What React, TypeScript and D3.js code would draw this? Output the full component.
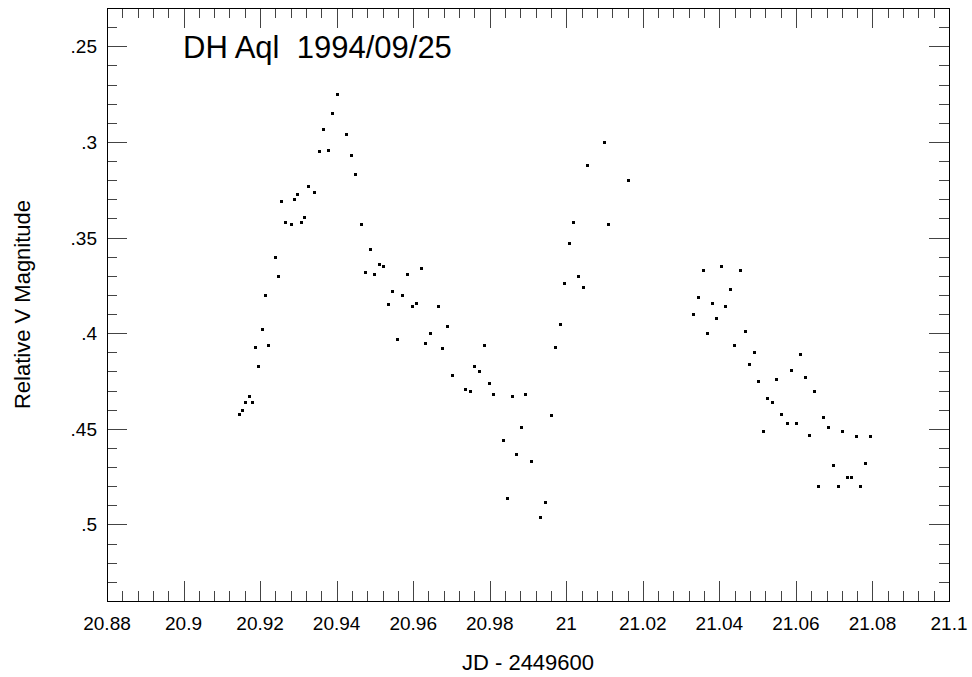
import React from "react";
import * as d3 from "d3";

const WIDTH = 972;
const HEIGHT = 677;
const PLOT = { left: 107, right: 949, top: 8, bottom: 601 };

const TITLE = "DH Aql  1994/09/25";
const X_LABEL = "JD - 2449600";
const Y_LABEL = "Relative V Magnitude";

const X_DOMAIN = [20.88, 21.1];
const Y_DOMAIN = [0.23, 0.54];
const X_MAJOR = [20.88, 20.9, 20.92, 20.94, 20.96, 20.98, 21, 21.02, 21.04, 21.06, 21.08, 21.1];
const Y_MAJOR = [0.25, 0.3, 0.35, 0.4, 0.45, 0.5];

// JD - 2449600 (first night segment)
const jd1 = [
  20.9146, 20.9154, 20.9161, 20.9172, 20.918, 20.9187, 20.9195, 20.9206, 20.9214, 20.9221,
  20.924, 20.9248, 20.9255, 20.9266, 20.9282, 20.9289, 20.9297, 20.9308, 20.9316, 20.9326,
  20.9342, 20.9355, 20.9365, 20.9378, 20.9389, 20.9402, 20.9425, 20.9438, 20.9449, 20.9464,
  20.9475, 20.9488, 20.9498, 20.9511, 20.9522, 20.9535, 20.9545, 20.9558, 20.9572, 20.9585,
  20.9598, 20.9608, 20.9621, 20.9632, 20.9645, 20.9666, 20.9676, 20.9689, 20.9702, 20.9736,
  20.9749, 20.976, 20.9773, 20.9786, 20.9799, 20.9809, 20.9835, 20.9846, 20.9859, 20.9869,
  20.9882, 20.9893, 20.9909, 20.9932, 20.9945, 20.9961, 20.9971, 20.9984, 20.9995, 21.0008,
  21.0018, 21.0031, 21.0044, 21.0055, 21.0099, 21.011, 21.016,
];
const mag1 = [
  0.442, 0.44, 0.436, 0.433, 0.436, 0.407, 0.417, 0.398, 0.38, 0.406,
  0.36, 0.37, 0.331, 0.342, 0.343, 0.33, 0.327, 0.342, 0.339, 0.323,
  0.326, 0.305, 0.293, 0.304, 0.285, 0.275, 0.296, 0.307, 0.317, 0.343,
  0.368, 0.356, 0.369, 0.364, 0.365, 0.385, 0.378, 0.403, 0.38, 0.369,
  0.386, 0.384, 0.366, 0.405, 0.4, 0.386, 0.408, 0.396, 0.422, 0.429,
  0.43, 0.417, 0.42, 0.406, 0.426, 0.432, 0.456, 0.486, 0.433, 0.463,
  0.449, 0.432, 0.467, 0.496, 0.488, 0.443, 0.407, 0.395, 0.374, 0.353,
  0.342, 0.37, 0.376, 0.312, 0.3, 0.343, 0.32,
];

// second segment after the gap
const jd2 = [
  21.0332, 21.0345, 21.0358, 21.0368, 21.0382, 21.0392, 21.0405, 21.0415, 21.0429, 21.0439,
  21.0455, 21.0468, 21.0478, 21.0491, 21.0502, 21.0515, 21.0525, 21.0538, 21.0549, 21.0562,
  21.0578, 21.0588, 21.0601, 21.0611, 21.0625, 21.0635, 21.0648, 21.0659, 21.0672, 21.0685,
  21.0698, 21.0711, 21.0721, 21.0734, 21.0745, 21.0758, 21.0768, 21.0781, 21.0794,
];
const mag2 = [
  0.39, 0.381, 0.367, 0.4, 0.384, 0.392, 0.365, 0.386, 0.377, 0.406,
  0.367, 0.399, 0.416, 0.41, 0.425, 0.451, 0.434, 0.436, 0.424, 0.442,
  0.447, 0.419, 0.447, 0.411, 0.423, 0.453, 0.43, 0.48, 0.444, 0.449,
  0.469, 0.48, 0.451, 0.475, 0.475, 0.454, 0.48, 0.468, 0.454,
];

const FONT = "'Liberation Sans', Arial, Helvetica, sans-serif";

export default function App() {
  const x = d3.scaleLinear().domain(X_DOMAIN).range([PLOT.left, PLOT.right]);
  const y = d3.scaleLinear().domain(Y_DOMAIN).range([PLOT.top, PLOT.bottom]);

  const points = [
    ...jd1.map((d, i) => [d, mag1[i]]),
    ...jd2.map((d, i) => [d, mag2[i]]),
  ];

  // minor ticks every 0.004 on x, 0.01 on y
  const xMinor = d3.range(0, 56).map((i) => X_DOMAIN[0] + i * 0.004).filter((v) => v < X_DOMAIN[1] - 1e-9);
  const yMinor = d3.range(0, 32).map((i) => Y_DOMAIN[0] + i * 0.01).filter((v) => v < Y_DOMAIN[1] - 1e-9);

  const fmtX = d3.format(".4~r");
  const fmtY = (v: number) => d3.format(".2~f")(v).replace(/^0/, "");

  const MAJ = 20;
  const MIN = 10;
  const tickColor = "#444";

  return (
    <svg width={WIDTH} height={HEIGHT} style={{ display: "block", position: "absolute", left: 0, top: 0 }} fontFamily={FONT}>
      <rect width={WIDTH} height={HEIGHT} fill="#fff" />

      {/* x ticks, bottom and top, pointing inward */}
      <g stroke={tickColor} strokeWidth={1}>
        {xMinor.map((v, i) => {
          const px = Math.round(x(v)) + 0.5;
          return (
            <g key={"xm" + i}>
              <line x1={px} x2={px} y1={PLOT.bottom} y2={PLOT.bottom - MIN} />
              <line x1={px} x2={px} y1={PLOT.top} y2={PLOT.top + MIN} />
            </g>
          );
        })}
        {X_MAJOR.map((v, i) => {
          const px = Math.round(x(v)) + 0.5;
          return (
            <g key={"xM" + i}>
              <line x1={px} x2={px} y1={PLOT.bottom} y2={PLOT.bottom - MAJ} />
              <line x1={px} x2={px} y1={PLOT.top} y2={PLOT.top + MAJ} />
            </g>
          );
        })}
        {yMinor.map((v, i) => {
          const py = Math.round(y(v)) + 0.5;
          return (
            <g key={"ym" + i}>
              <line x1={PLOT.left} x2={PLOT.left + MIN} y1={py} y2={py} />
              <line x1={PLOT.right} x2={PLOT.right - MIN} y1={py} y2={py} />
            </g>
          );
        })}
        {Y_MAJOR.map((v, i) => {
          const py = Math.round(y(v)) + 0.5;
          return (
            <g key={"yM" + i}>
              <line x1={PLOT.left} x2={PLOT.left + MAJ} y1={py} y2={py} />
              <line x1={PLOT.right} x2={PLOT.right - MAJ} y1={py} y2={py} />
            </g>
          );
        })}
      </g>

      {/* frame */}
      <rect
        x={PLOT.left + 0.5}
        y={PLOT.top + 0.5}
        width={PLOT.right - PLOT.left}
        height={PLOT.bottom - PLOT.top}
        fill="none"
        stroke="#000"
        strokeWidth={1}
      />

      {/* tick labels */}
      <g fontSize={19} fill="#000">
        {X_MAJOR.map((v, i) => (
          <text key={"xl" + i} x={x(v)} y={PLOT.bottom + 29} textAnchor="middle">
            {fmtX(v)}
          </text>
        ))}
        {Y_MAJOR.map((v, i) => (
          <text key={"yl" + i} x={PLOT.left - 10} y={y(v) + 7} textAnchor="end">
            {fmtY(v)}
          </text>
        ))}
      </g>

      {/* axis titles */}
      <text x={(PLOT.left + PLOT.right) / 2} y={670} textAnchor="middle" fontSize={22}>
        {X_LABEL}
      </text>
      <text
        transform={`translate(30, ${(PLOT.top + PLOT.bottom) / 2}) rotate(-90)`}
        textAnchor="middle"
        fontSize={22}
      >
        {Y_LABEL}
      </text>

      {/* chart title inside plot */}
      <text x={183} y={58} fontSize={31} style={{ whiteSpace: "pre" }}>
        {TITLE}
      </text>

      {/* data points */}
      <g fill="#000">
        {points.map(([d, m], i) => (
          <rect key={i} x={Math.round(x(d)) - 1} y={Math.round(y(m)) - 1} width={3} height={3} />
        ))}
      </g>
    </svg>
  );
}
